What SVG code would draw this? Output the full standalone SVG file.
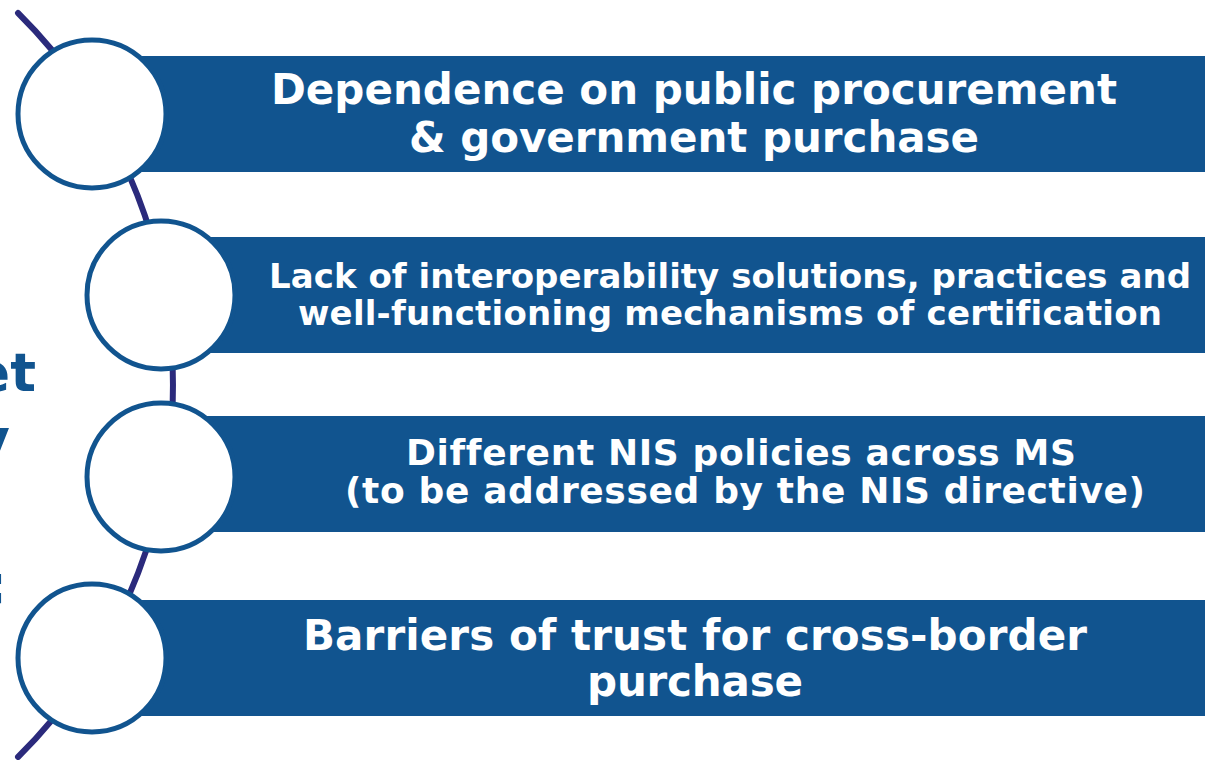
<svg xmlns="http://www.w3.org/2000/svg" width="1207" height="760" viewBox="0 0 1207 760">
  <style>
    .box { fill: #11548f; }
    .ring { fill: #ffffff; stroke: #11548f; stroke-width: 5; }
    .lbl { font-family: "DejaVu Sans", Verdana, sans-serif; font-weight: bold; fill: #ffffff; text-anchor: middle; font-variant-ligatures: none; }
    .big { font-size: 42px; }
    .mid { font-size: 34px; }
    .mid3 { font-size: 36px; }
    .side { font-family: "DejaVu Sans", Verdana, sans-serif; font-weight: bold; fill: #11548f; font-size: 54px; text-anchor: end; }
    .arc { fill: none; stroke: #2b2a7c; stroke-width: 6; stroke-linecap: round; }
  </style>
  <rect width="1207" height="760" fill="#ffffff"/>
  <g id="side-title">
    <text class="side" x="36" y="391">et</text>
    <text class="side" x="10" y="457">y</text>
    <text class="side" x="7" y="603">:</text>
  </g>
  <g id="connectors">
    <path class="arc" d="M 18 13 A 524 524 0 0 1 18 757"/>
  </g>
  <g id="node1">
    <rect class="box" x="140" y="56" width="1065" height="116"/>
    <circle class="ring" cx="92" cy="114" r="74"/>
    <text class="lbl big" x="694" y="104" textLength="846" lengthAdjust="spacing">Dependence on public procurement</text>
    <text class="lbl big" x="694" y="152" textLength="570" lengthAdjust="spacing">&amp; government purchase</text>
  </g>
  <g id="node2">
    <rect class="box" x="140" y="237" width="1065" height="116"/>
    <circle class="ring" cx="161" cy="295" r="74"/>
    <text class="lbl mid" x="730" y="288" textLength="922" lengthAdjust="spacing">Lack of interoperability solutions, practices and</text>
    <text class="lbl mid" x="730" y="325" textLength="864" lengthAdjust="spacing">well-functioning mechanisms of certification</text>
  </g>
  <g id="node3">
    <rect class="box" x="140" y="416" width="1065" height="116"/>
    <circle class="ring" cx="161" cy="477" r="74"/>
    <text class="lbl mid3" x="741" y="465" textLength="670" lengthAdjust="spacing">Different NIS policies across MS</text>
    <text class="lbl mid3" x="745" y="503" textLength="800" lengthAdjust="spacing">(to be addressed by the NIS directive)</text>
  </g>
  <g id="node4">
    <rect class="box" x="140" y="600" width="1065" height="116"/>
    <circle class="ring" cx="92" cy="658" r="74"/>
    <text class="lbl big" x="695" y="650" textLength="784" lengthAdjust="spacing">Barriers of trust for cross-border</text>
    <text class="lbl big" x="695" y="696" textLength="216" lengthAdjust="spacing">purchase</text>
  </g>
</svg>
